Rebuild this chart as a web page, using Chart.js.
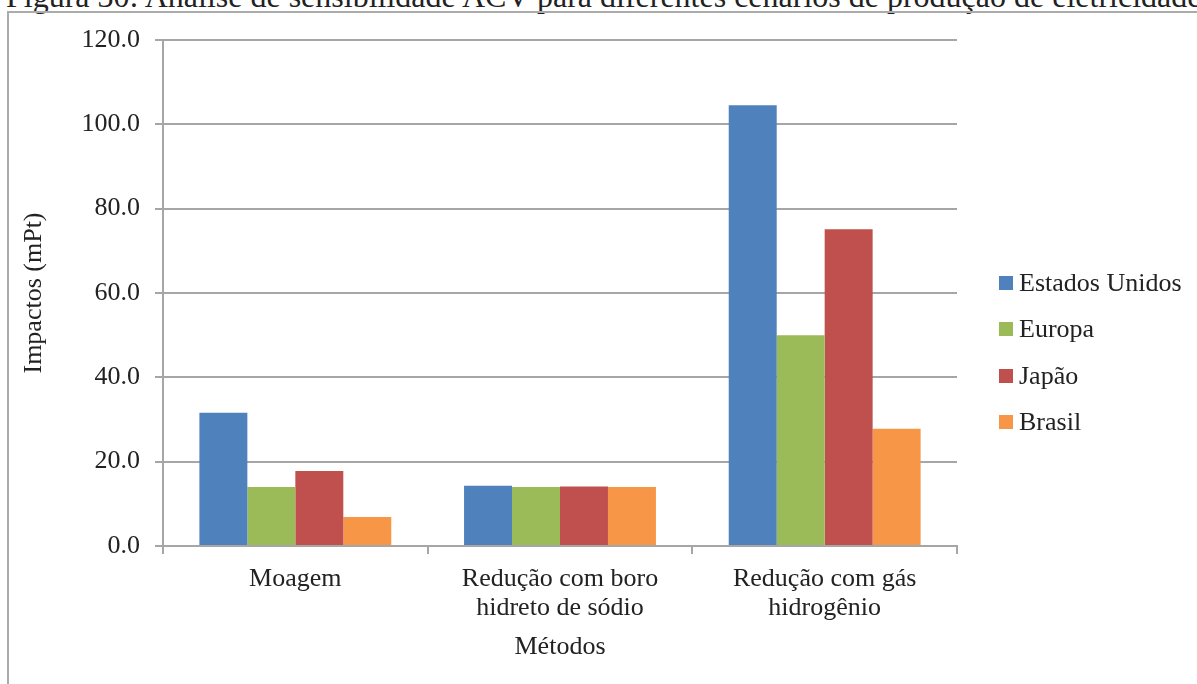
<!DOCTYPE html>
<html>
<head>
<meta charset="utf-8">
<script src="https://cdn.jsdelivr.net/npm/chart.js@4"></script>
<style>
  html, body { margin: 0; padding: 0; background: #fff; }
  body { width: 1197px; height: 684px; position: relative; overflow: hidden; font-family: "Liberation Serif", serif; color: #222; }
  #title { position: absolute; left: 6px; top: -18px; white-space: nowrap; line-height: 28px; font-size: 32px; }
  #frame { position: absolute; left: 7px; top: 11px; right: -4px; bottom: -4px; border-left: 2px solid #ababab; border-top: 2px solid #ababab; }
  #wrap { position: absolute; left: 0; top: 0; width: 1197px; height: 684px; }
  #legend { position: absolute; left: 999px; top: 0; }
  .item { position: absolute; left: 0; white-space: nowrap; font-size: 26px; line-height: 30px; height: 30px; }
  .item span.box { position: absolute; left: 0; top: 8px; width: 14px; height: 14px; }
  .item span.txt { position: absolute; left: 20px; top: 0; }
</style>
</head>
<body>
<div id="title">Figura 30: Análise de sensibilidade ACV para diferentes cenários de produção de eletricidade</div>
<div id="frame"></div>
<div id="wrap"><canvas id="sensChart" width="1197" height="684"></canvas></div>
<div id="legend"></div>
<script>
// Categorias e series (mPt)
const metodos = [['Moagem'], ['Redução com boro', 'hidreto de sódio'], ['Redução com gás', 'hidrogênio']];
const paises = ['Estados Unidos', 'Europa', 'Japão', 'Brasil'];
const estadosUnidos = [31.6, 14.3, 104.5];
const europa = [14.0, 14.0, 50.0];
const japao = [17.8, 14.1, 75.1];
const brasil = [6.9, 14.0, 27.8];
const cores = ['#4f81bd', '#9bbb59', '#c0504d', '#f79646'];
const series = [estadosUnidos, europa, japao, brasil];

const fonte = 'Liberation Serif';
const cinza = '#a6a6a6';

// legenda a direita
const legend = document.getElementById('legend');
const rowY = [268, 314, 361, 407];
paises.forEach((p, i) => {
    const d = document.createElement('div');
    d.className = 'item';
    d.style.top = rowY[i] + 'px';
    d.innerHTML = '<span class="box" style="background:' + cores[i] + '"></span><span class="txt">' + p + '</span>';
    legend.appendChild(d);
});

const ctx = document.getElementById('sensChart');
new Chart(ctx, {
    type: 'bar',
    data: {
        labels: metodos,
        datasets: paises.map((p, i) => ({
            label: p,
            data: series[i],
            backgroundColor: cores[i],
            borderWidth: 0,
            categoryPercentage: 0.725,
            barPercentage: 1.0
        }))
    },
    options: {
        responsive: false,
        animation: false,
        layout: { padding: { top: 40, right: 240, bottom: 0, left: 0 } },
        plugins: {
            legend: { display: false },
            tooltip: { enabled: false }
        },
        scales: {
            x: {
                afterFit: (s) => { s.height = 138; },
                grid: { display: true, drawOnChartArea: false, drawTicks: true, tickLength: 8, color: cinza, lineWidth: 2, offset: true },
                border: { display: true, color: cinza, width: 2 },
                ticks: { color: '#222', padding: 11, maxRotation: 0, font: { family: fonte, size: 26, lineHeight: 1.1 } },
                title: { display: true, text: 'Métodos', color: '#222', padding: { top: 0, bottom: 21 }, font: { family: fonte, size: 26 } }
            },
            y: {
                min: 0,
                max: 120,
                afterFit: (s) => { s.width = 163; },
                ticks: { stepSize: 20, color: '#222', padding: 15, callback: (v) => v.toFixed(1), font: { family: fonte, size: 26 } },
                grid: { color: cinza, lineWidth: 2, tickLength: 8 },
                border: { display: true, color: cinza, width: 2 },
                title: { display: true, text: 'Impactos (mPt)', color: '#222', padding: { top: 19, bottom: 0 }, font: { family: fonte, size: 26 } }
            }
        }
    }
});
</script>
</body>
</html>
